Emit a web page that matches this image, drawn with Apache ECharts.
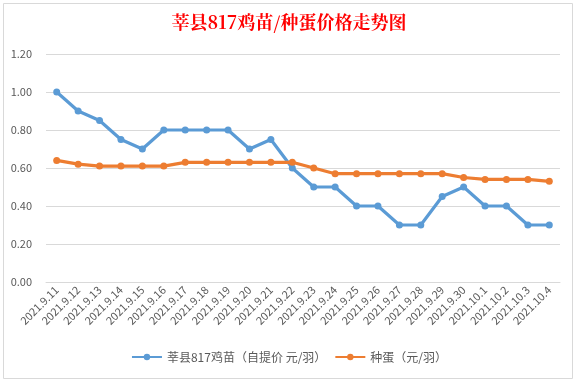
<!DOCTYPE html>
<html><head><meta charset="utf-8">
<script src="https://cdn.jsdelivr.net/npm/echarts@6/dist/echarts.min.js"></script>
<style>html,body{margin:0;padding:0;background:#fff}#c{width:578px;height:382px}</style>
</head><body><div id="c"></div>
<script>
const categories = ['2021.9.11','2021.9.12','2021.9.13','2021.9.14','2021.9.15','2021.9.16','2021.9.17','2021.9.18','2021.9.19','2021.9.20','2021.9.21','2021.9.22','2021.9.23','2021.9.24','2021.9.25','2021.9.26','2021.9.27','2021.9.28','2021.9.29','2021.9.30','2021.10.1','2021.10.2','2021.10.3','2021.10.4'];
const chickPrice = [1.00,0.90,0.85,0.75,0.70,0.80,0.80,0.80,0.80,0.70,0.75,0.60,0.50,0.50,0.40,0.40,0.30,0.30,0.45,0.50,0.40,0.40,0.30,0.30];
const eggPrice = [0.64,0.62,0.61,0.61,0.61,0.61,0.63,0.63,0.63,0.63,0.63,0.63,0.60,0.57,0.57,0.57,0.57,0.57,0.57,0.55,0.54,0.54,0.54,0.53];
const seriesNames = ['莘县817鸡苗（自提价 元/羽）','种蛋（元/羽）'];
const chart = echarts.init(document.getElementById('c'));
const font = '"Noto Sans CJK SC", "Microsoft YaHei", sans-serif';
chart.setOption({
  animation:false,
  graphic:[{type:'rect',shape:{x:3.5,y:3.5,width:569,height:375},style:{fill:'none',stroke:'#d9d9d9',lineWidth:1},silent:true}],
  title:{text:'莘县817鸡苗/种蛋价格走势图',left:'center',top:8,textStyle:{color:'#ff0000',fontSize:18,fontWeight:'bold',fontFamily:'"Noto Serif CJK SC","Noto Sans CJK SC",serif'}},
  legend:{bottom:14,itemGap:8,itemWidth:30,itemHeight:8,textStyle:{color:'#595959',fontSize:12,fontFamily:font},data:seriesNames},
  grid:{left:46,right:18,top:54,bottom:100},
  xAxis:{type:'category',data:categories,boundaryGap:true,
    axisLine:{lineStyle:{color:'#d9d9d9'}},axisTick:{show:false},
    axisLabel:{rotate:45,color:'#595959',fontSize:11,interval:0,margin:6,fontFamily:font}},
  yAxis:{type:'value',min:0,max:1.2,interval:0.2,
    axisLabel:{formatter:v=>v.toFixed(2),color:'#595959',fontSize:11,margin:14,fontFamily:font},
    splitLine:{lineStyle:{color:'#d9d9d9'}},axisLine:{show:false},axisTick:{show:false}},
  series:[
    {name:seriesNames[0],type:'line',data:chickPrice,color:'#5b9bd5',symbol:'circle',symbolSize:7,lineStyle:{width:3.2}},
    {name:seriesNames[1],type:'line',data:eggPrice,color:'#ed7d31',symbol:'circle',symbolSize:7,lineStyle:{width:3.2}}
  ]
});
</script></body></html>
